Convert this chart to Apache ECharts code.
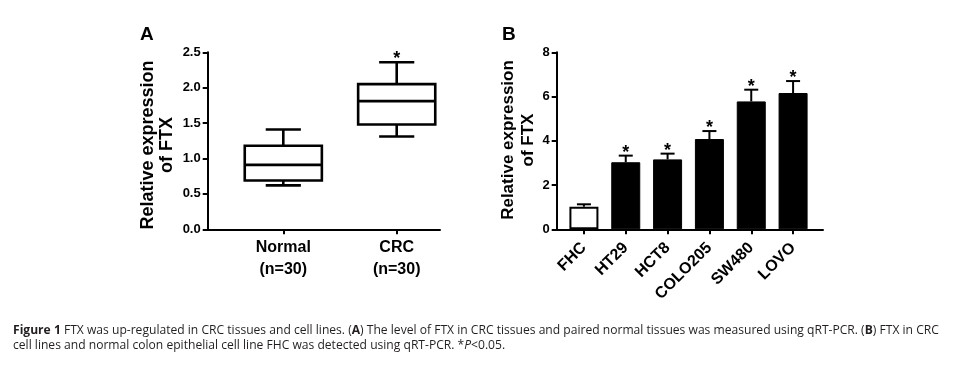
<!DOCTYPE html>
<html>
<head>
<meta charset="utf-8">
<script src="https://cdn.jsdelivr.net/npm/echarts@6/dist/echarts.min.js"></script>
<style>
html,body{margin:0;padding:0;background:#fff;}
#chart{width:972px;height:366px;}
</style>
</head>
<body>
<div id="chart"></div>
<script>
// ---------- Panel A data (box plot) ----------
const groupsA = ['Normal', 'CRC'];
const groupSizeA = ['(n=30)', '(n=30)'];
const boxMin = [0.62, 1.31];
const boxQ1 = [0.69, 1.48];
const boxMedian = [0.91, 1.81];
const boxQ3 = [1.18, 2.05];
const boxMax = [1.41, 2.36];
const starsA = ['', '*'];
const yTicksA = [0, 0.5, 1.0, 1.5, 2.0, 2.5];

// ---------- Panel B data (bar + error) ----------
const cellLines = ['FHC', 'HT29', 'HCT8', 'COLO205', 'SW480', 'LOVO'];
const meanExpr = [1.02, 3.03, 3.16, 4.08, 5.78, 6.16];
const errUp = [0.11, 0.30, 0.26, 0.36, 0.53, 0.54];
const starsB = ['', '*', '*', '*', '*', '*'];
const yTicksB = [0, 2, 4, 6, 8];

const FONT = '"Liberation Sans", Arial, sans-serif';
const CAPFONT = '"Open Sans", Lato, sans-serif';
const CAPSIZE = 12.1;

const chart = echarts.init(document.getElementById('chart'), null, {renderer: 'canvas'});

const boxData = groupsA.map((g, i) => [i, boxMin[i], boxQ1[i], boxMedian[i], boxQ3[i], boxMax[i]]);
const errData = cellLines.map((c, i) => [i, meanExpr[i], meanExpr[i] + errUp[i]]);

const frameAxis = {
  type: 'value', min: 0, max: 1,
  axisLine: {show: true, lineStyle: {color: '#000', width: 2}},
  axisTick: {show: false}, axisLabel: {show: false}, splitLine: {show: false}
};

function yAxisShown(gridIndex, min, max, interval, digits) {
  return {
    type: 'value', gridIndex, min, max, interval,
    axisLine: {show: true, lineStyle: {color: '#000', width: 2}},
    axisTick: {show: true, inside: false, length: 5, lineStyle: {color: '#000', width: 2}},
    axisLabel: {color: '#000', fontFamily: FONT, fontWeight: 'bold', fontSize: 13, margin: 7,
      formatter: v => v.toFixed(digits)},
    splitLine: {show: false}
  };
}
function yAxisHidden(gridIndex, min, max) {
  return {type: 'value', gridIndex, min, max, show: false, splitLine: {show: false}};
}

const option = {
  backgroundColor: '#fff',
  animation: false,
  grid: [
    {left: 207.7, top: 52.3, width: 232.3, height: 177, containLabel: false, outerBoundsMode: 'none'},
    {left: 226.6, top: 52.3, width: 226.8, height: 177, containLabel: false, outerBoundsMode: 'none'},
    {left: 556.7, top: 52.3, width: 266.3, height: 177, containLabel: false, outerBoundsMode: 'none'},
    {left: 563.0, top: 52.3, width: 251, height: 177, containLabel: false, outerBoundsMode: 'none'}
  ],
  xAxis: [
    Object.assign({gridIndex: 0}, frameAxis),
    {
      type: 'category', gridIndex: 1, data: groupsA, boundaryGap: true,
      axisLine: {show: false},
      axisTick: {show: true, alignWithLabel: true, length: 5, lineStyle: {color: '#000', width: 2}},
      axisLabel: {color: '#000', fontFamily: FONT, fontWeight: 'bold', fontSize: 16, lineHeight: 22, margin: 7,
        formatter: (v, i) => v + '\n' + groupSizeA[i]}
    },
    Object.assign({gridIndex: 2}, frameAxis),
    {
      type: 'category', gridIndex: 3, data: cellLines, boundaryGap: true,
      axisLine: {show: false},
      axisTick: {show: true, alignWithLabel: true, length: 5, lineStyle: {color: '#000', width: 2}},
      axisLabel: {color: '#000', fontFamily: FONT, fontWeight: 'bold', fontSize: 16, rotate: 45, margin: 16, interval: 0}
    }
  ],
  yAxis: [
    yAxisShown(0, yTicksA[0], yTicksA[yTicksA.length - 1], yTicksA[1] - yTicksA[0], 1),
    yAxisHidden(1, yTicksA[0], yTicksA[yTicksA.length - 1]),
    yAxisShown(2, yTicksB[0], yTicksB[yTicksB.length - 1], yTicksB[1] - yTicksB[0], 0),
    yAxisHidden(3, yTicksB[0], yTicksB[yTicksB.length - 1])
  ],
  series: [
    {
      type: 'custom', xAxisIndex: 1, yAxisIndex: 1, data: boxData,
      encode: {x: 0, y: [1, 2, 3, 4, 5]},
      renderItem: function (params, api) {
        const i = api.value(0);
        const band = api.size([1, 0])[0];
        const cx = api.coord([i, 0])[0];
        const yMin = api.coord([i, api.value(1)])[1];
        const yQ1 = api.coord([i, api.value(2)])[1];
        const yMed = api.coord([i, api.value(3)])[1];
        const yQ3 = api.coord([i, api.value(4)])[1];
        const yMax = api.coord([i, api.value(5)])[1];
        const hw = band * 0.34;
        const cw = band * 0.155;
        const ls = {stroke: '#000', lineWidth: 2.6, fill: null};
        const children = [
          {type: 'line', shape: {x1: cx, y1: yQ3, x2: cx, y2: yMax}, style: ls},
          {type: 'line', shape: {x1: cx - cw, y1: yMax, x2: cx + cw, y2: yMax}, style: ls},
          {type: 'line', shape: {x1: cx, y1: yQ1, x2: cx, y2: yMin}, style: ls},
          {type: 'line', shape: {x1: cx - cw, y1: yMin, x2: cx + cw, y2: yMin}, style: ls},
          {type: 'rect', shape: {x: cx - hw, y: yQ3, width: 2 * hw, height: yQ1 - yQ3},
            style: {stroke: '#000', lineWidth: 2.6, fill: '#fff'}},
          {type: 'line', shape: {x1: cx - hw, y1: yMed, x2: cx + hw, y2: yMed}, style: ls}
        ];
        if (starsA[i]) {
          children.push({type: 'text', x: cx, y: yMax - 3,
            style: {text: starsA[i], fontFamily: FONT, fontWeight: 'bold', fontSize: 18,
              align: 'center', verticalAlign: 'middle', fill: '#000'}});
        }
        return {type: 'group', children};
      }
    },
    {
      type: 'bar', xAxisIndex: 3, yAxisIndex: 3, barWidth: 29,
      data: meanExpr.map((v, i) => ({
        value: v,
        itemStyle: i === 0
          ? {color: '#fff', borderColor: '#000', borderWidth: 2}
          : {color: '#000', borderColor: '#000', borderWidth: 1}
      }))
    },
    {
      type: 'custom', xAxisIndex: 3, yAxisIndex: 3, data: errData,
      encode: {x: 0, y: [1, 2]},
      z: 3,
      renderItem: function (params, api) {
        const i = api.value(0);
        const p0 = api.coord([i, api.value(1)]);
        const p1 = api.coord([i, api.value(2)]);
        const cw = 7;
        const ls = {stroke: '#000', lineWidth: 2, fill: null};
        const children = [
          {type: 'line', shape: {x1: p0[0], y1: p0[1], x2: p1[0], y2: p1[1]}, style: ls},
          {type: 'line', shape: {x1: p1[0] - cw, y1: p1[1], x2: p1[0] + cw, y2: p1[1]}, style: ls}
        ];
        if (starsB[i]) {
          children.push({type: 'text', x: p1[0], y: p1[1] - 3,
            style: {text: starsB[i], fontFamily: FONT, fontWeight: 'bold', fontSize: 18,
              align: 'center', verticalAlign: 'middle', fill: '#000'}});
        }
        return {type: 'group', children};
      }
    }
  ],
  graphic: [
    {type: 'text', left: 140, top: 25, style: {text: 'A', fontFamily: FONT, fontWeight: 'bold', fontSize: 19, fill: '#000'}},
    {type: 'text', left: 502, top: 25, style: {text: 'B', fontFamily: FONT, fontWeight: 'bold', fontSize: 19, fill: '#000'}},
    {type: 'text', x: 157.5, y: 145, rotation: Math.PI / 2,
      style: {text: 'Relative expression\nof FTX', fontFamily: FONT, fontWeight: 'bold', fontSize: 18, lineHeight: 19,
        align: 'center', verticalAlign: 'middle', fill: '#000'}},
    {type: 'text', x: 518, y: 140, rotation: Math.PI / 2,
      style: {text: 'Relative expression\nof FTX', fontFamily: FONT, fontWeight: 'bold', fontSize: 17, lineHeight: 20,
        align: 'center', verticalAlign: 'middle', fill: '#000'}},
    {type: 'text', x: 13, y: 331,
      style: {
        text: '{b|Figure 1} FTX was up-regulated in CRC tissues and cell lines. ({b|A}) The level of FTX in CRC tissues and paired normal tissues was measured using qRT-PCR. ({b|B}) FTX in CRC',
        fontFamily: CAPFONT, fontSize: CAPSIZE, fill: '#231f20', verticalAlign: 'middle',
        rich: {b: {fontFamily: CAPFONT, fontSize: CAPSIZE, fontWeight: 'bold', fill: '#231f20'}}
      }},
    {type: 'text', x: 13, y: 346,
      style: {
        text: 'cell lines and normal colon epithelial cell line FHC was detected using qRT-PCR. *{i|P}<0.05.',
        fontFamily: CAPFONT, fontSize: CAPSIZE, fill: '#231f20', verticalAlign: 'middle',
        rich: {i: {fontFamily: CAPFONT, fontSize: CAPSIZE, fontStyle: 'italic', fill: '#231f20'}}
      }}
  ]
};
chart.setOption(option);
</script>
</body>
</html>
